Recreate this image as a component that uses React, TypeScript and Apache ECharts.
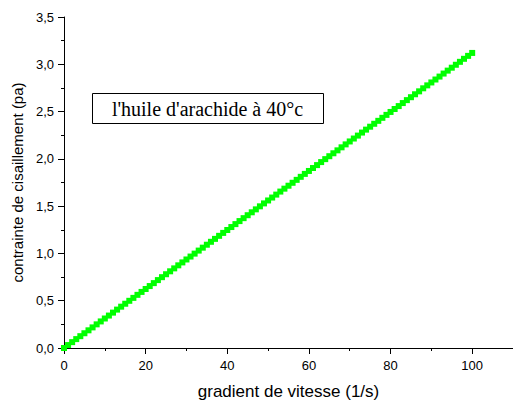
import React, { useEffect, useRef } from "react";
import * as echarts from "echarts";

const xValues = [
  0, 1, 2, 3, 4, 5, 6, 7, 8, 9, 10, 11, 12, 13, 14, 15, 16, 17, 18, 19, 20,
  21, 22, 23, 24, 25, 26, 27, 28, 29, 30, 31, 32, 33, 34, 35, 36, 37, 38, 39, 40,
  41, 42, 43, 44, 45, 46, 47, 48, 49, 50, 51, 52, 53, 54, 55, 56, 57, 58, 59, 60,
  61, 62, 63, 64, 65, 66, 67, 68, 69, 70, 71, 72, 73, 74, 75, 76, 77, 78, 79, 80,
  81, 82, 83, 84, 85, 86, 87, 88, 89, 90, 91, 92, 93, 94, 95, 96, 97, 98, 99, 100,
];

const yValues = [
  0.0, 0.031, 0.062, 0.094, 0.125, 0.156, 0.187, 0.218, 0.25, 0.281, 0.312,
  0.343, 0.374, 0.406, 0.437, 0.468, 0.499, 0.53, 0.562, 0.593, 0.624,
  0.655, 0.686, 0.718, 0.749, 0.78, 0.811, 0.842, 0.874, 0.905, 0.936,
  0.967, 0.998, 1.03, 1.061, 1.092, 1.123, 1.154, 1.186, 1.217, 1.248,
  1.279, 1.31, 1.342, 1.373, 1.404, 1.435, 1.466, 1.498, 1.529, 1.56,
  1.591, 1.622, 1.654, 1.685, 1.716, 1.747, 1.778, 1.81, 1.841, 1.872,
  1.903, 1.934, 1.966, 1.997, 2.028, 2.059, 2.09, 2.122, 2.153, 2.184,
  2.215, 2.246, 2.278, 2.309, 2.34, 2.371, 2.402, 2.434, 2.465, 2.496,
  2.527, 2.558, 2.59, 2.621, 2.652, 2.683, 2.714, 2.746, 2.777, 2.808,
  2.839, 2.87, 2.902, 2.933, 2.964, 2.995, 3.026, 3.058, 3.089, 3.12,
];

const xTitle = "gradient de vitesse (1/s)";
const yTitle = "contrainte de cisaillement (pa)";
const boxLabel = "l'huile d'arachide à 40°c";

export default function App() {
  const ref = useRef<HTMLDivElement>(null);
  useEffect(() => {
    if (!ref.current) return;
    const chart = echarts.init(ref.current, null, { renderer: "svg" });
    const font = "'Liberation Sans', Arial, sans-serif";
    chart.setOption({
      animation: false,
      backgroundColor: "#ffffff",
      grid: { left: 64, top: 17, right: 0, bottom: 54, containLabel: false },
      xAxis: {
        type: "value",
        min: 0,
        max: 110,
        interval: 20,
        name: xTitle,
        nameLocation: "middle",
        nameGap: 35,
        nameTextStyle: { fontFamily: font, fontSize: 17, color: "#000" },
        axisLine: { show: true, onZero: false, lineStyle: { color: "#000", width: 1 } },
        axisTick: { show: true, inside: false, length: 6, lineStyle: { color: "#000" } },
        minorTick: { show: true, splitNumber: 2, length: 3, lineStyle: { color: "#000" } },
        axisLabel: {
          fontFamily: font,
          fontSize: 13,
          color: "#000",
          margin: 11,
          showMaxLabel: false,
        },
        splitLine: { show: false },
      },
      yAxis: {
        type: "value",
        min: 0,
        max: 3.5,
        interval: 0.5,
        name: yTitle,
        nameLocation: "middle",
        nameGap: 38,
        nameTextStyle: { fontFamily: font, fontSize: 15, color: "#000" },
        axisLine: { show: true, lineStyle: { color: "#000", width: 1 } },
        axisTick: { show: true, inside: false, length: 6, lineStyle: { color: "#000" } },
        minorTick: { show: true, splitNumber: 2, length: 3, lineStyle: { color: "#000" } },
        axisLabel: {
          fontFamily: font,
          fontSize: 13,
          color: "#000",
          margin: 10,
          formatter: (v: number) => v.toFixed(1).replace(".", ","),
        },
        splitLine: { show: false },
      },
      series: [
        {
          type: "scatter",
          data: xValues.map((x, i) => [x, yValues[i]]),
          symbol: "rect",
          symbolSize: 6,
          itemStyle: { color: "#00ff00", opacity: 1 },
        },
      ],
      graphic: [
        {
          type: "rect",
          left: 92,
          top: 93,
          shape: { width: 231, height: 30 },
          style: { fill: "#fff", stroke: "#000", lineWidth: 1 },
          z: 10,
        },
        {
          type: "text",
          x: 207.5,
          y: 109,
          style: {
            text: boxLabel,
            font: "20px 'Liberation Serif', 'Times New Roman', serif",
            fill: "#000",
            align: "center",
            verticalAlign: "middle",
          },
          z: 11,
        },
      ],
    });
    return () => chart.dispose();
  }, []);
  return (
    <div
      ref={ref}
      style={{ position: "absolute", left: 0, top: 0, width: 513, height: 405 }}
    />
  );
}
